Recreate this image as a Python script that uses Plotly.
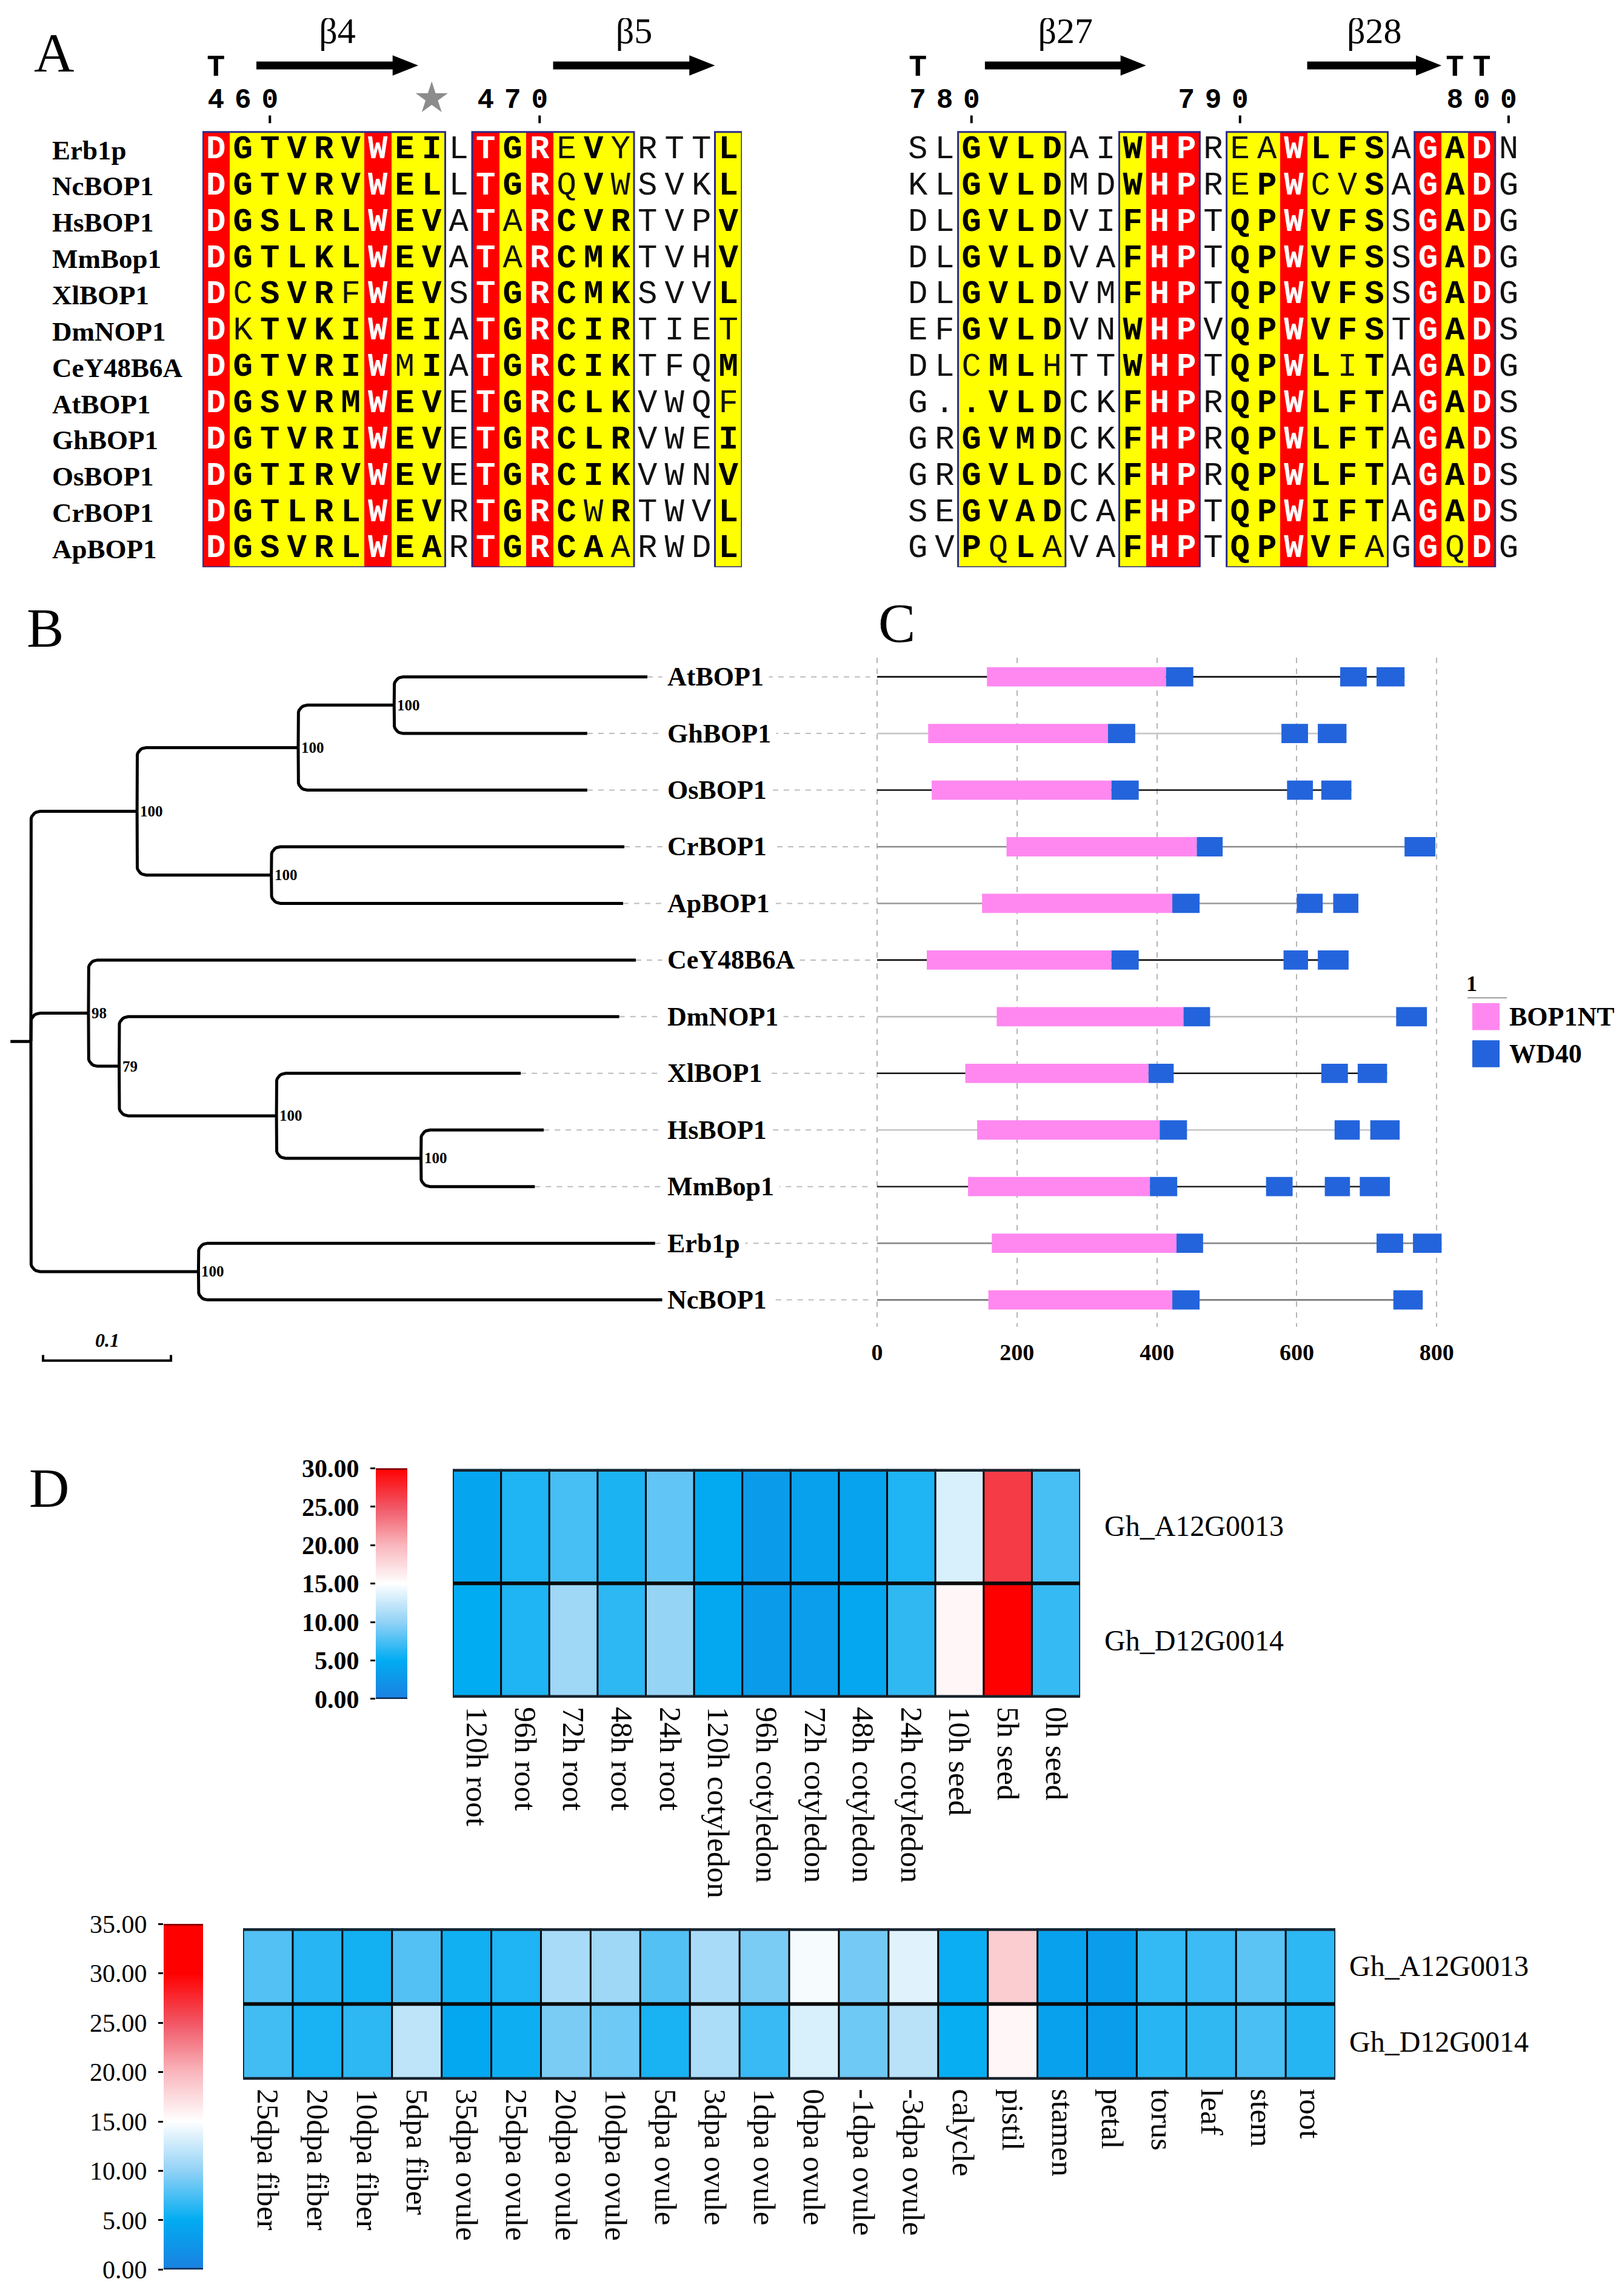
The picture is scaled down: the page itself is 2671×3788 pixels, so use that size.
import numpy as np
import plotly.graph_objects as go

W, H = 2671, 3788
SERIF = "Liberation Serif"
MONO = "Liberation Mono"


def px(x):
    return x / W


def py(y):
    return 1 - y / H


def xdom(a, b):
    return [a / W, b / W]


def ydom(top, bottom):
    return [1 - bottom / H, 1 - top / H]


# ======================= DATA =======================
# ---- A: alignment (uppercase = similar/conserved residue, lowercase = not) ----
seq_names = ["Erb1p", "NcBOP1", "HsBOP1", "MmBop1", "XlBOP1", "DmNOP1",
             "CeY48B6A", "AtBOP1", "GhBOP1", "OsBOP1", "CrBOP1", "ApBOP1"]
left_seqs = [
    "DGTVRVWEIlTGReVyrttL",
    "DGTVRVWELlTGRqVwsvkL",
    "DGSLRLWEVaTaRCVRtvpV",
    "DGTLKLWEVaTaRCMKtvhV",
    "DcSVRfWEVsTGRCMKsvvL",
    "DkTVKIWEIaTGRCIRtiet",
    "DGTVRIWmIaTGRCIKtfqM",
    "DGSVRMWEVeTGRCLKvwqf",
    "DGTVRIWEVeTGRCLRvweI",
    "DGTIRVWEVeTGRCIKvwnV",
    "DGTLRLWEVrTGRCwRtwvL",
    "DGSVRLWEArTGRCAarwdL",
]
right_seqs = [
    "slGVLDaiWHPreaWLFSaGADn",
    "klGVLDmdWHPrePWcvSaGADg",
    "dlGVLDviFHPtQPWVFSsGADg",
    "dlGVLDvaFHPtQPWVFSsGADg",
    "dlGVLDvmFHPtQPWVFSsGADg",
    "efGVLDvnWHPvQPWVFStGADs",
    "dlcMLhttWHPtQPWLiTaGADg",
    "g..VLDckFHPrQPWLFTaGADs",
    "grGVMDckFHPrQPWLFTaGADs",
    "grGVLDckFHPrQPWLFTaGADs",
    "seGVADcaFHPtQPWIFTaGADs",
    "gvPqLavaFHPtQPWVFagGqDg",
]
left_start = 458
right_start = 778
left_strands = [("β4", 460, 465), ("β5", 471, 476)]
right_strands = [("β27", 781, 786), ("β28", 793, 797)]
left_turns = [458]
right_turns = [778, 798, 799]
left_stars = [466]
right_stars = []

# ---- B: tree ----
newick = ("((((AtBOP1:0.198,GhBOP1:0.151)100:0.075,OsBOP1:0.226)100:0.126,"
          "(CrBOP1:0.276,ApBOP1:0.275)100:0.105)100:0.083,"
          "(CeY48B6A:0.428,(DmNOP1:0.391,(XlBOP1:0.191,(HsBOP1:0.096,MmBop1:0.089)100:0.113)100:0.123)79:0.024)98:0.045,"
          "(Erb1p:0.357,NcBOP1:0.366)100:0.131):0.016;")
scale_len = 0.1

# ---- C: domains (aa positions) ----
protein_length = {"AtBOP1": 754, "GhBOP1": 671, "OsBOP1": 678, "CrBOP1": 798,
                  "ApBOP1": 688, "CeY48B6A": 674, "DmNOP1": 786, "XlBOP1": 729,
                  "HsBOP1": 747, "MmBop1": 733, "Erb1p": 807, "NcBOP1": 780}
bop1nt = {"AtBOP1": (157, 413), "GhBOP1": (73, 330), "OsBOP1": (78, 335),
          "CrBOP1": (185, 457), "ApBOP1": (150, 422), "CeY48B6A": (71, 335),
          "DmNOP1": (171, 438), "XlBOP1": (126, 388), "HsBOP1": (143, 404),
          "MmBop1": (130, 390), "Erb1p": (164, 428), "NcBOP1": (159, 422)}
wd40 = {"AtBOP1": [(413, 452), (662, 700), (714, 754)],
        "GhBOP1": [(330, 369), (578, 616), (630, 671)],
        "OsBOP1": [(335, 374), (586, 623), (635, 678)],
        "CrBOP1": [(457, 494), (754, 798)],
        "ApBOP1": [(422, 461), (600, 637), (652, 688)],
        "CeY48B6A": [(335, 374), (581, 616), (630, 674)],
        "DmNOP1": [(438, 476), (742, 786)],
        "XlBOP1": [(388, 424), (635, 673), (687, 729)],
        "HsBOP1": [(404, 443), (654, 690), (705, 747)],
        "MmBop1": [(390, 429), (556, 594), (640, 676), (690, 733)],
        "Erb1p": [(428, 466), (714, 752), (766, 807)],
        "NcBOP1": [(422, 461), (738, 780)]}
domain_ticks = [0, 200, 400, 600, 800]

# ---- D: expression heatmaps ----
genes = ["Gh_A12G0013", "Gh_D12G0014"]
seed_tissues = ["120h root", "96h root", "72h root", "48h root", "24h root",
                "120h cotyledon", "96h cotyledon", "72h cotyledon", "48h cotyledon",
                "24h cotyledon", "10h seed", "5h seed", "0h seed"]
seed_A = [4.3, 6.0, 7.4, 5.9, 8.3, 4.8, 3.1, 3.7, 4.0, 6.0, 13.2, 26.5, 7.4]
seed_D = [5.0, 6.0, 10.6, 6.5, 10.2, 4.6, 3.1, 3.4, 4.4, 6.6, 15.6, 30.0, 6.8]
seed_ticks = [0, 5, 10, 15, 20, 25, 30]

organ_tissues = ["25dpa fiber", "20dpa fiber", "10dpa fiber", "5dpa fiber",
                 "35dpa ovule", "25dpa ovule", "20dpa ovule", "10dpa ovule",
                 "5dpa ovule", "3dpa ovule", "1dpa ovule", "0dpa ovule",
                 "-1dpa ovule", "-3dpa ovule", "calycle", "pistil", "stamen",
                 "petal", "torus", "leaf", "stem", "root"]
organ_A = [7.8, 6.3, 5.6, 7.8, 5.5, 6.0, 11.0, 10.6, 7.8, 11.0, 9.2, 14.6,
           9.0, 13.6, 5.3, 18.5, 3.8, 3.3, 6.7, 7.0, 8.1, 6.5]
organ_D = [7.2, 5.8, 6.5, 12.0, 4.5, 5.4, 9.2, 8.8, 5.8, 11.2, 6.9, 13.2,
           8.8, 11.8, 5.2, 15.6, 3.8, 3.3, 6.3, 6.6, 7.5, 6.2]
organ_ticks = [0, 5, 10, 15, 20, 25, 30, 35]

# ======================= FIGURE =======================
fig = go.Figure()
shapes = []
annotations = []

# ---------------- Panel A ----------------
ROWH = 60.6
ALN_TOP = 190
HDR = -20  # header offset


def aln_y(pix):
    return (pix - ALN_TOP) / ROWH - 0.5


def add_block(seqs, start, strands, turns, stars, xa, xref):
    nrow, ncol = len(seqs), len(seqs[0])
    colclass = []
    for c in range(ncol):
        col = [s[c] for s in seqs]
        if len(set(col)) == 1 and col[0].isalpha():
            colclass.append(2)
        elif any(ch.isupper() for ch in col):
            colclass.append(1)
        else:
            colclass.append(0)
    z = [colclass[:] for _ in range(nrow)]
    fig.add_trace(go.Heatmap(
        x=list(range(ncol)), y=list(range(nrow)), z=z, xaxis=xa, yaxis="y",
        zmin=0, zmax=2, showscale=False, hoverinfo="skip",
        colorscale=[[0, "#ffffff"], [0.33, "#ffffff"], [0.34, "#ffff00"],
                    [0.66, "#ffff00"], [0.67, "#ff0000"], [1, "#ff0000"]]))
    xs, ys, txt, colors = [], [], [], []
    for r, s in enumerate(seqs):
        for c, ch in enumerate(s):
            up = ch.upper()
            if colclass[c] == 2:
                t, col = f"<b>{up}</b>", "white"
            elif colclass[c] == 1 and (ch.isupper() or not ch.isalpha()):
                t, col = f"<b>{up}</b>", "black"
            else:
                t, col = up, "#111111"
            xs.append(c)
            ys.append(r)
            txt.append(t)
            colors.append(col)
    fig.add_trace(go.Scatter(
        x=xs, y=ys, text=txt, mode="text", xaxis=xa, yaxis="y",
        textfont=dict(family=MONO, size=54, color=colors),
        textposition="middle center", hoverinfo="skip"))
    # boxes around similarity runs
    c = 0
    while c < ncol:
        if colclass[c] > 0:
            c0 = c
            while c + 1 < ncol and colclass[c + 1] > 0:
                c += 1
            shapes.append(dict(type="rect", xref=xref, yref="y",
                               x0=c0 - 0.5, x1=c + 0.5, y0=-0.5, y1=nrow - 0.5,
                               line=dict(color="#2a2a88", width=3)))
        c += 1
    # numbering
    nx, ny, nt, tx = [], [], [], []
    for i in range(ncol):
        res = start + i
        if res % 10 == 0:
            s = str(res)
            for k, d in enumerate(s):
                nx.append(i - len(s) + 1 + k)
                ny.append(aln_y(158 + HDR))
                nt.append(f"<b>{d}</b>")
            tx.append(i)
    fig.add_trace(go.Scatter(x=nx, y=ny, text=nt, mode="text", xaxis=xa, yaxis="y",
                             textfont=dict(family=MONO, size=46, color="black"),
                             hoverinfo="skip"))
    fig.add_trace(go.Scatter(x=tx, y=[aln_y(189 + HDR)] * len(tx), mode="markers",
                             xaxis=xa, yaxis="y", hoverinfo="skip",
                             marker=dict(symbol="line-ns", size=9,
                                         line=dict(width=4, color="black"))))
    # turns
    fig.add_trace(go.Scatter(x=[t - start for t in turns],
                             y=[aln_y(104 + HDR)] * len(turns),
                             text=["<b>T</b>"] * len(turns), mode="text",
                             xaxis=xa, yaxis="y", hoverinfo="skip",
                             textfont=dict(family=MONO, size=50, color="black")))
    # stars
    if stars:
        fig.add_trace(go.Scatter(x=[s - start for s in stars],
                                 y=[aln_y(154 + HDR)] * len(stars), mode="markers",
                                 xaxis=xa, yaxis="y", hoverinfo="skip",
                                 marker=dict(symbol="star", size=40, color="#8c8c8c")))
    # strands
    yc = aln_y(99 + HDR)
    bt, hh, hl = 6.5 / ROWH, 17 / ROWH, 0.95
    lab_x, lab_t = [], []
    for lab, r0, r1 in strands:
        x0 = r0 - start - 0.5
        x1 = r1 - start + 0.5
        xh = x1 - hl
        path = (f"M {x0},{yc - bt} L {xh},{yc - bt} L {xh},{yc - hh} L {x1},{yc} "
                f"L {xh},{yc + hh} L {xh},{yc + bt} L {x0},{yc + bt} Z")
        shapes.append(dict(type="path", xref=xref, yref="y", path=path,
                           fillcolor="black", line=dict(width=0)))
        lab_x.append((x0 + x1) / 2)
        lab_t.append(lab)
    fig.add_trace(go.Scatter(x=lab_x, y=[aln_y(46 + HDR)] * len(lab_x), text=lab_t,
                             mode="text", xaxis=xa, yaxis="y", hoverinfo="skip",
                             textfont=dict(family=SERIF, size=60, color="black")))


add_block(left_seqs, left_start, left_strands, left_turns, left_stars, "x", "x")
add_block(right_seqs, right_start, right_strands, right_turns, right_stars, "x2", "x2")

for i, n in enumerate(seq_names):
    annotations.append(dict(x=px(76), xref="paper", y=i, yref="y", text=f"<b>{n}</b>",
                            showarrow=False, xanchor="left", yanchor="middle",
                            font=dict(family=SERIF, size=45, color="black")))


# ---------------- Panel B: tree ----------------
def parse_newick(s):
    s = s.strip().rstrip(";")
    pos = [0]

    def parse():
        node = {"children": [], "name": "", "length": 0.0}
        if s[pos[0]] == "(":
            pos[0] += 1
            while True:
                node["children"].append(parse())
                if s[pos[0]] == ",":
                    pos[0] += 1
                    continue
                pos[0] += 1
                break
        st = pos[0]
        while pos[0] < len(s) and s[pos[0]] not in ",):":
            pos[0] += 1
        node["name"] = s[st:pos[0]]
        if pos[0] < len(s) and s[pos[0]] == ":":
            pos[0] += 1
            st = pos[0]
            while pos[0] < len(s) and s[pos[0]] not in ",)":
                pos[0] += 1
            node["length"] = float(s[st:pos[0]])
        return node

    return parse()


tree = parse_newick(newick)
leaf_order = []


def assign(node, x):
    node["x"] = x
    if not node["children"]:
        node["y"] = len(leaf_order)
        leaf_order.append(node)
    else:
        for ch in node["children"]:
            assign(ch, x + ch["length"])
        node["y"] = (node["children"][0]["y"] + node["children"][-1]["y"]) / 2


assign(tree, 0.0)

TREE_PX_PER_UNIT = 2110.0
LEAF_PX = 94.6
LEAF_TOP = 1100
TREE_X0 = 43
rx = 15 / TREE_PX_PER_UNIT
ry = 15 / LEAF_PX

tx_, ty_ = [], []
boot = []


def walk(node):
    for ch in node["children"]:
        s = 1 if ch["y"] > node["y"] else -1
        pts = [(node["x"], node["y"]), (node["x"], ch["y"] - s * ry)]
        for t in np.linspace(0, np.pi / 2, 8)[1:]:
            pts.append((node["x"] + rx - rx * np.cos(t), ch["y"] - s * ry + s * ry * np.sin(t)))
        pts.append((ch["x"], ch["y"]))
        for a, b in pts:
            tx_.append(a)
            ty_.append(b)
        tx_.append(None)
        ty_.append(None)
        walk(ch)
    if node["children"] and node["name"] and node is not tree:
        boot.append((node["x"], node["y"], node["name"]))


walk(tree)
tx_ += [-tree["length"], 0, None]
ty_ += [tree["y"], tree["y"], None]

tree_xmax = (1430 - TREE_X0) / TREE_PX_PER_UNIT
lx, ly = [], []
for lf in leaf_order:
    lx += [lf["x"], tree_xmax, None]
    ly += [lf["y"], lf["y"], None]
fig.add_trace(go.Scatter(x=lx, y=ly, mode="lines", xaxis="x3", yaxis="y3",
                         line=dict(color="#bdbdbd", width=2, dash="dash"),
                         hoverinfo="skip"))
fig.add_trace(go.Scatter(x=tx_, y=ty_, mode="lines", xaxis="x3", yaxis="y3",
                         line=dict(color="black", width=5), hoverinfo="skip"))

for bx, by, bn in boot:
    annotations.append(dict(x=bx, y=by, xref="x3", yref="y3", text=f"<b>{bn}</b>",
                            showarrow=False, xanchor="left", yanchor="middle", xshift=3,
                            font=dict(family=SERIF, size=25, color="black")))
for lf in leaf_order:
    annotations.append(dict(x=px(1084), xref="paper", y=lf["y"], yref="y3",
                            text=f"<b>{lf['name']}</b>", showarrow=False,
                            xanchor="left", yanchor="middle", bgcolor="white", borderpad=8,
                            font=dict(family=SERIF, size=44, color="black")))

# scale bar
sb_x0 = 0.0095
sb_y = (2242 - LEAF_TOP) / LEAF_PX
fig.add_trace(go.Scatter(x=[sb_x0, sb_x0, sb_x0 + scale_len, sb_x0 + scale_len],
                         y=[sb_y - 0.1, sb_y, sb_y, sb_y - 0.1], mode="lines",
                         xaxis="x3", yaxis="y3", hoverinfo="skip",
                         line=dict(color="black", width=4)))
annotations.append(dict(x=sb_x0 + scale_len / 2, y=(2208 - LEAF_TOP) / LEAF_PX,
                        xref="x3", yref="y3", text=f"<b><i>{scale_len:g}</i></b>",
                        showarrow=False, font=dict(family=SERIF, size=32, color="black")))

# ---------------- Panel C: domains ----------------
line_colors = {"AtBOP1": "#111111", "GhBOP1": "#c8c8c8", "OsBOP1": "#111111",
               "CrBOP1": "#8a8a8a", "ApBOP1": "#9a9a9a", "CeY48B6A": "#111111",
               "DmNOP1": "#bdbdbd", "XlBOP1": "#111111", "HsBOP1": "#c4c4c4",
               "MmBop1": "#222222", "Erb1p": "#8a8a8a", "NcBOP1": "#7a7a7a"}
rows = [lf["y"] for lf in leaf_order]
names_c = [lf["name"] for lf in leaf_order]
fig.add_trace(go.Bar(orientation="h", y=rows, x=[protein_length[n] for n in names_c],
                     base=[0] * len(names_c), width=0.028, xaxis="x4", yaxis="y4",
                     marker=dict(color=[line_colors[n] for n in names_c], line=dict(width=0)),
                     hoverinfo="skip"))
fig.add_trace(go.Bar(orientation="h", y=rows,
                     x=[bop1nt[n][1] - bop1nt[n][0] for n in names_c],
                     base=[bop1nt[n][0] for n in names_c], width=0.34,
                     xaxis="x4", yaxis="y4", hoverinfo="skip",
                     marker=dict(color="#ff88f0", line=dict(width=0))))
wy, wx, wb = [], [], []
for lf in leaf_order:
    for a, b in wd40[lf["name"]]:
        wy.append(lf["y"])
        wx.append(b - a)
        wb.append(a)
fig.add_trace(go.Bar(orientation="h", y=wy, x=wx, base=wb, width=0.34,
                     xaxis="x4", yaxis="y4", hoverinfo="skip",
                     marker=dict(color="#2364dc", line=dict(width=0))))

# legend for C
shapes.append(dict(type="rect", xref="paper", yref="paper", x0=px(2421), x1=px(2466),
                   y0=py(1690), y1=py(1645), fillcolor="#ff88f0", line=dict(width=0)))
shapes.append(dict(type="rect", xref="paper", yref="paper", x0=px(2421), x1=px(2466),
                   y0=py(1752), y1=py(1707), fillcolor="#2364dc", line=dict(width=0)))
shapes.append(dict(type="line", xref="paper", yref="paper", x0=px(2413), x1=px(2478),
                   y0=py(1636), y1=py(1636), line=dict(color="#9a9a9a", width=2)))
annotations.append(dict(x=px(2431), y=py(1613), xref="paper", yref="paper", text="<b>1</b>",
                        showarrow=False, font=dict(family=SERIF, size=36, color="black")))
annotations.append(dict(x=px(2480), y=py(1668), xref="paper", yref="paper", text="<b>BOP1NT</b>",
                        showarrow=False, xanchor="left", yanchor="middle",
                        font=dict(family=SERIF, size=44, color="black")))
annotations.append(dict(x=px(2480), y=py(1730), xref="paper", yref="paper", text="<b>WD40</b>",
                        showarrow=False, xanchor="left", yanchor="middle",
                        font=dict(family=SERIF, size=44, color="black")))


# ---------------- Panel D: heatmaps ----------------
def expr_scale(zmax):
    stops = [(0, "#1a80e0"), (5, "#02acf2"), (10, "#92d2f6"), (15, "#ffffff"),
             (20, "#f9b6bc"), (25, "#f15564"), (30, "#ff0000")]
    cs = [[v / zmax, c] for v, c in stops if v <= zmax]
    if cs[-1][0] < 1:
        cs.append([1, "#ff0000"])
    return cs


def add_heat(tissues, valsA, valsD, ticks, xa, ya, xca, yca, lab_px):
    zmax = ticks[-1]
    cs = expr_scale(zmax)
    fig.add_trace(go.Heatmap(x=tissues, y=[0, 1], z=[valsA, valsD], xaxis=xa, yaxis=ya,
                             zmin=0, zmax=zmax, colorscale=cs, showscale=False,
                             hoverinfo="skip"))
    n = len(tissues)
    for k in range(n + 1):
        shapes.append(dict(type="line", xref=xa, yref=ya, x0=k - 0.5, x1=k - 0.5,
                           y0=-0.5, y1=1.5, line=dict(color="black", width=3)))
    for k, wdt, colr in [(0, 9, "#18232e"), (1, 6, "#0a0a0a"), (2, 9, "#18232e")]:
        shapes.append(dict(type="line", xref=xa, yref=ya, x0=-0.5, x1=n - 0.5,
                           y0=k - 0.5, y1=k - 0.5, line=dict(color=colr, width=wdt)))
    for i, g in enumerate(genes):
        annotations.append(dict(x=px(lab_px), xref="paper", y=i, yref=ya, text=g,
                                showarrow=False, xanchor="left", yanchor="middle",
                                font=dict(family=SERIF, size=48, color="black")))
    grad = np.linspace(0, zmax, 401)
    fig.add_trace(go.Heatmap(x=[0], y=grad, z=[[v] for v in grad], xaxis=xca, yaxis=yca,
                             zmin=0, zmax=zmax, colorscale=cs, showscale=False,
                             hoverinfo="skip"))
    shapes.append(dict(type="line", xref=xca, yref=yca, x0=-0.5, x1=0.5, y0=zmax, y1=zmax,
                       line=dict(color="#7a0000", width=5)))
    shapes.append(dict(type="line", xref=xca, yref=yca, x0=-0.5, x1=0.5, y0=0, y1=0,
                       line=dict(color="#0a2a50", width=5)))


add_heat(seed_tissues, seed_A, seed_D, seed_ticks, "x5", "y5", "x6", "y6", 1812)
add_heat(organ_tissues, organ_A, organ_D, organ_ticks, "x7", "y7", "x8", "y8", 2216)

# panel letters
for letter, lx_, ly_ in [("A", 46, 58), ("B", 34, 1018), ("C", 1439, 1010), ("D", 38, 2455)]:
    annotations.append(dict(x=px(lx_), y=py(ly_), xref="paper", yref="paper", text=letter,
                            showarrow=False, xanchor="left", yanchor="middle",
                            font=dict(family=SERIF, size=92, color="black")))

hidden = dict(visible=False, showgrid=False, zeroline=False)
heat_x = dict(type="category", showgrid=False, zeroline=False, ticks="", showline=False,
              tickangle=90, ticklabelstandoff=14,
              tickfont=dict(family=SERIF, size=51, color="black"))
cbar_y = dict(side="left", showgrid=False, zeroline=False, showline=False, ticks="outside",
              ticklen=8, tickwidth=3, tickcolor="black", ticklabelstandoff=10)

fig.update_layout(
    width=W, height=H, margin=dict(l=0, r=0, t=0, b=0),
    paper_bgcolor="white", plot_bgcolor="white", showlegend=False, barmode="overlay",
    xaxis=dict(domain=xdom(326, 1216), range=[-0.5, 19.5], anchor="y", **hidden),
    xaxis2=dict(domain=xdom(1484, 2503), range=[-0.5, 22.5], anchor="y", **hidden),
    yaxis=dict(domain=ydom(0, 917), range=[11.5, aln_y(0)], anchor="x", **hidden),
    xaxis3=dict(domain=xdom(0, 1430), anchor="y3",
                range=[-TREE_X0 / TREE_PX_PER_UNIT, tree_xmax], **hidden),
    yaxis3=dict(domain=ydom(1000, 2280), anchor="x3",
                range=[(2280 - LEAF_TOP) / LEAF_PX, (1000 - LEAF_TOP) / LEAF_PX], **hidden),
    xaxis4=dict(domain=xdom(1427.5, 2420), range=[-10, 850], anchor="y4",
                tickvals=domain_ticks, showgrid=True, gridcolor="#b5b5b5", griddash="dash",
                gridwidth=2, zeroline=False, showline=False, ticks="", ticklabelstandoff=16,
                tickfont=dict(family=SERIF, size=38, color="black", weight="bold")),
    yaxis4=dict(domain=ydom(1068, 2186), anchor="x4",
                range=[(2186 - LEAF_TOP) / LEAF_PX, (1068 - LEAF_TOP) / LEAF_PX], **hidden),
    xaxis5=dict(domain=xdom(739, 1774), anchor="y5", range=[-0.5, len(seed_tissues) - 0.5], **heat_x),
    yaxis5=dict(domain=ydom(2423, 2805), anchor="x5", range=[1.5, -0.5], **hidden),
    xaxis6=dict(domain=xdom(612, 664), anchor="y6", range=[-0.5, 0.5], **hidden),
    yaxis6=dict(domain=ydom(2422, 2807), anchor="x6", range=[0, seed_ticks[-1]],
                tickvals=seed_ticks, ticktext=[f"{v:.2f}" for v in seed_ticks],
                tickfont=dict(family=SERIF, size=42, color="black", weight="bold"), **cbar_y),
    xaxis7=dict(domain=xdom(393, 2195), anchor="y7", range=[-0.5, len(organ_tissues) - 0.5], **heat_x),
    yaxis7=dict(domain=ydom(3190, 3443), anchor="x7", range=[1.5, -0.5], **hidden),
    xaxis8=dict(domain=xdom(262, 327), anchor="y8", range=[-0.5, 0.5], **hidden),
    yaxis8=dict(domain=ydom(3183, 3760), anchor="x8", range=[0, organ_ticks[-1]],
                tickvals=organ_ticks, ticktext=[f"{v:.2f}" for v in organ_ticks],
                tickfont=dict(family=SERIF, size=42, color="black"), **cbar_y),
    shapes=shapes, annotations=annotations,
)

fig.write_html("out.html")
